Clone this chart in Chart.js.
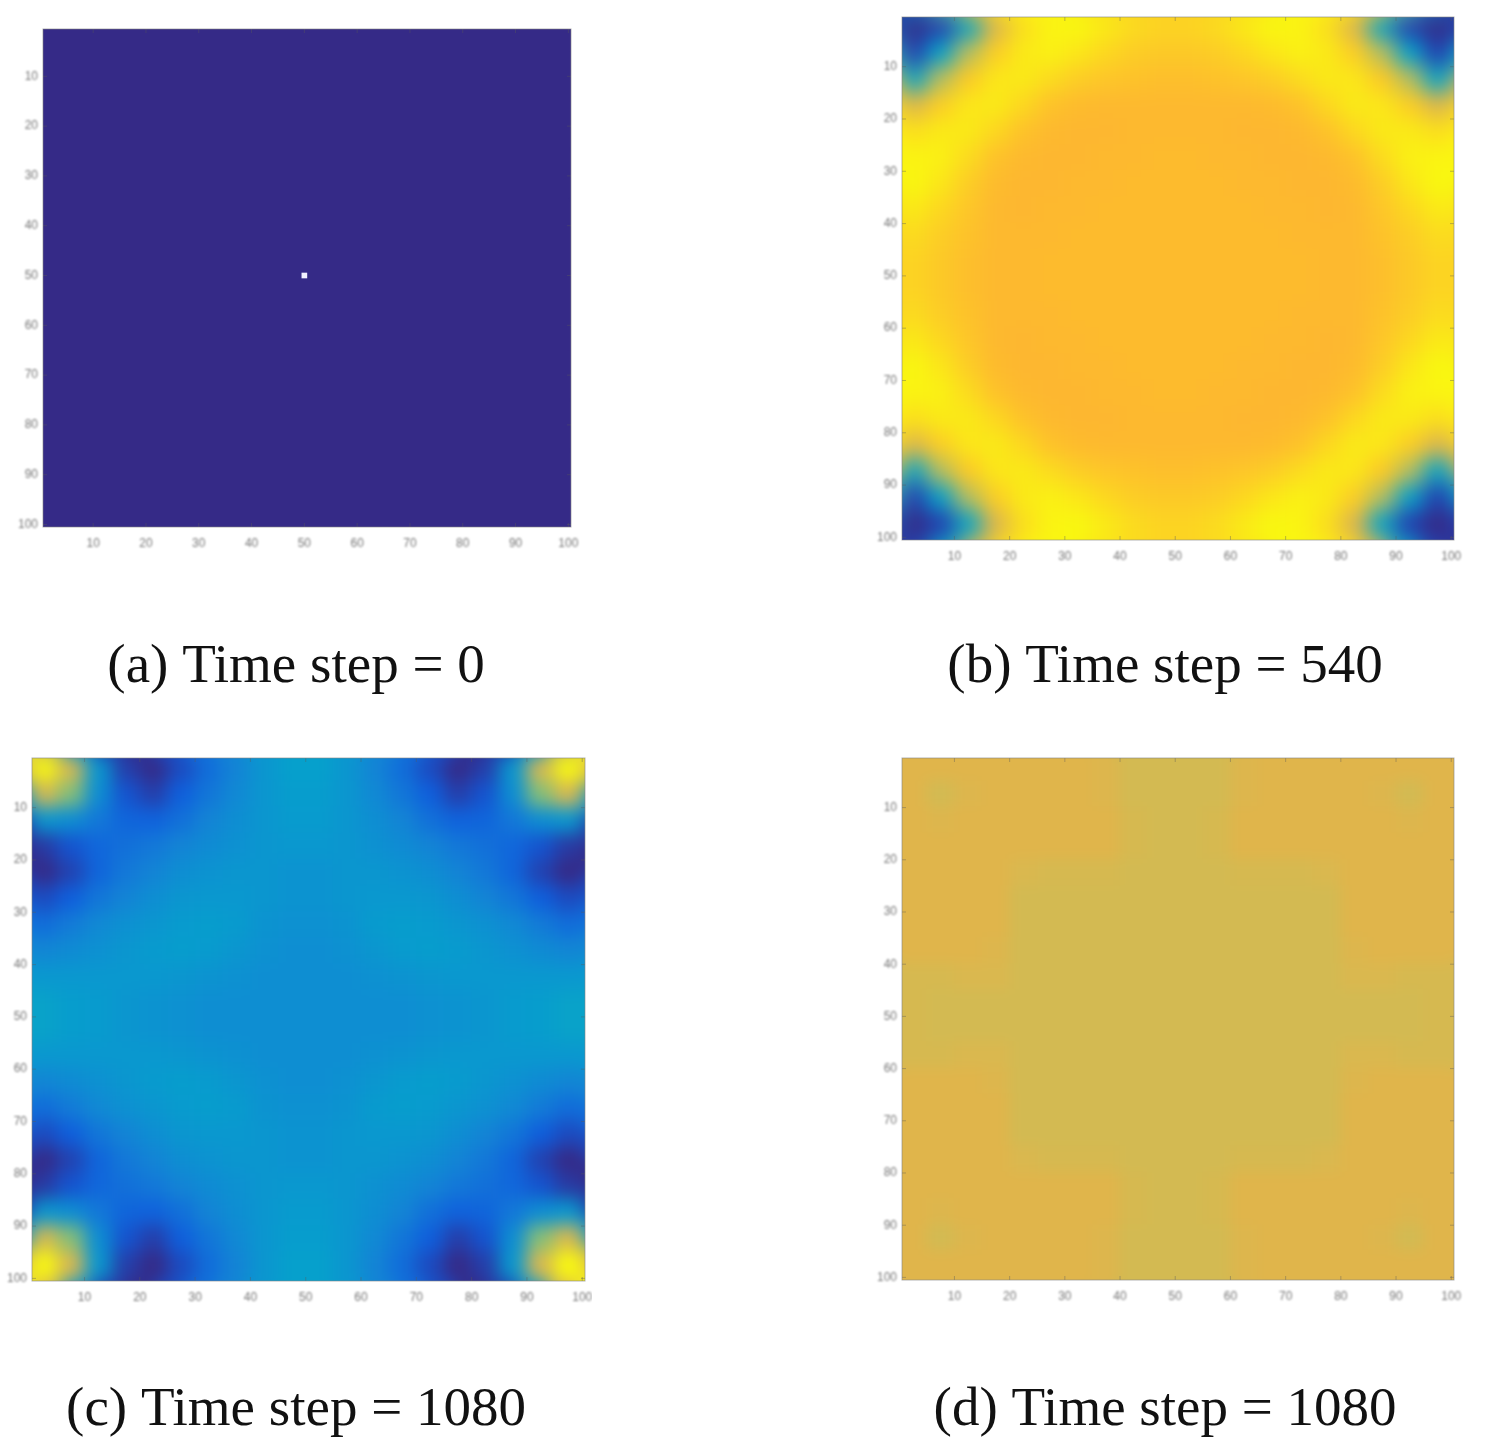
<!DOCTYPE html>
<html><head><meta charset="utf-8">
<style>html,body{margin:0;padding:0;background:#fff;width:1490px;height:1456px;overflow:hidden}canvas{position:absolute}</style>
<script src="https://cdn.jsdelivr.net/npm/chart.js@4/dist/chart.umd.min.js"></script>
</head><body>
<canvas id="a"></canvas><canvas id="b"></canvas><canvas id="c"></canvas><canvas id="d"></canvas>
<script>
const tickValues=[10,20,30,40,50,60,70,80,90,100];
const cellCenters=[2.5,7.5,12.5,17.5,22.5,27.5,32.5,37.5,42.5,47.5,52.5,57.5,62.5,67.5,72.5,77.5,82.5,87.5,92.5,97.5];
const captions=["(a) Time step = 0","(b) Time step = 540","(c) Time step = 1080","(d) Time step = 1080"];
const colorValues=[0,12,25,37,50,62,72,76,80,82,88,100];
const colorStops=["#352a87","#0f5cdd","#1481d6","#06a0cc","#2eb7a4","#87bf77","#d3ba52","#e0b54b","#fdb730","#fdbb2d","#fcd024","#f9fb0e"];
const hotCell=[{x:50,y:50}];
const panelA=[
[0,0,0,0,0,0,0,0,0,0,0,0,0,0,0,0,0,0,0,0],[0,0,0,0,0,0,0,0,0,0,0,0,0,0,0,0,0,0,0,0],
[0,0,0,0,0,0,0,0,0,0,0,0,0,0,0,0,0,0,0,0],[0,0,0,0,0,0,0,0,0,0,0,0,0,0,0,0,0,0,0,0],
[0,0,0,0,0,0,0,0,0,0,0,0,0,0,0,0,0,0,0,0],[0,0,0,0,0,0,0,0,0,0,0,0,0,0,0,0,0,0,0,0],
[0,0,0,0,0,0,0,0,0,0,0,0,0,0,0,0,0,0,0,0],[0,0,0,0,0,0,0,0,0,0,0,0,0,0,0,0,0,0,0,0],
[0,0,0,0,0,0,0,0,0,0,0,0,0,0,0,0,0,0,0,0],[0,0,0,0,0,0,0,0,0,0,0,0,0,0,0,0,0,0,0,0],
[0,0,0,0,0,0,0,0,0,0,0,0,0,0,0,0,0,0,0,0],[0,0,0,0,0,0,0,0,0,0,0,0,0,0,0,0,0,0,0,0],
[0,0,0,0,0,0,0,0,0,0,0,0,0,0,0,0,0,0,0,0],[0,0,0,0,0,0,0,0,0,0,0,0,0,0,0,0,0,0,0,0],
[0,0,0,0,0,0,0,0,0,0,0,0,0,0,0,0,0,0,0,0],[0,0,0,0,0,0,0,0,0,0,0,0,0,0,0,0,0,0,0,0],
[0,0,0,0,0,0,0,0,0,0,0,0,0,0,0,0,0,0,0,0],[0,0,0,0,0,0,0,0,0,0,0,0,0,0,0,0,0,0,0,0],
[0,0,0,0,0,0,0,0,0,0,0,0,0,0,0,0,0,0,0,0],[0,0,0,0,0,0,0,0,0,0,0,0,0,0,0,0,0,0,0,0]];
const panelB=[
[0,6,40,75,92,98,99,95,91,89,89,91,95,99,98,92,75,40,6,0],
[6,38,68,87,95,97,94,90,87,86,86,87,90,94,97,95,87,68,38,6],
[40,68,86,94,95,91,87,85,84,83,83,84,85,87,91,95,94,86,68,40],
[75,87,94,95,90,84,82,81,81,81,81,81,81,82,84,90,95,94,87,75],
[92,95,95,90,84,81,80,80,81,81,81,81,80,80,81,84,90,95,95,92],
[98,97,91,84,81,80,80,81,81,82,82,81,81,80,80,81,84,91,97,98],
[99,94,87,82,80,80,81,81,82,82,82,82,81,81,80,80,82,87,94,99],
[95,90,85,81,80,81,81,82,82,82,82,82,82,81,81,80,81,85,90,95],
[91,87,84,81,81,81,82,82,82,82,82,82,82,82,81,81,81,84,87,91],
[89,86,83,81,81,82,82,82,82,82,82,82,82,82,82,81,81,83,86,89],
[89,86,83,81,81,82,82,82,82,82,82,82,82,82,82,81,81,83,86,89],
[91,87,84,81,81,81,82,82,82,82,82,82,82,82,81,81,81,84,87,91],
[95,90,85,81,80,81,81,82,82,82,82,82,82,81,81,80,81,85,90,95],
[99,94,87,82,80,80,81,81,82,82,82,82,81,81,80,80,82,87,94,99],
[98,97,91,84,81,80,80,81,81,82,82,81,81,80,80,81,84,91,97,98],
[92,95,95,90,84,81,80,80,81,81,81,81,80,80,81,84,90,95,95,92],
[75,87,94,95,90,84,82,81,81,81,81,81,81,82,84,90,95,94,87,75],
[40,68,86,94,95,91,87,85,84,83,83,84,85,87,91,95,94,86,68,40],
[6,38,68,87,95,97,94,90,87,86,86,87,90,94,97,95,87,68,38,6],
[0,6,40,75,92,98,99,95,91,89,89,91,95,99,98,92,75,40,6,0]];
const panelC=[
[100,74,34,5,0,8,18,26,33,37,37,33,26,18,8,0,5,34,74,100],
[74,62,30,10,5,13,21,28,33,36,36,33,28,21,13,5,10,30,62,74],
[34,30,22,15,14,19,26,30,33,35,35,33,30,26,19,14,15,22,30,34],
[4,10,16,19,22,26,29,31,33,34,34,33,31,29,26,22,19,16,10,4],
[0,6,15,22,26,30,32,33,33,32,32,33,33,32,30,26,22,15,6,0],
[8,13,21,26,30,33,34,34,33,32,32,33,34,34,33,30,26,21,13,8],
[18,23,28,31,33,35,36,35,32,31,31,32,35,36,35,33,31,28,23,18],
[27,29,31,33,35,36,35,33,31,30,30,31,33,35,36,35,33,31,29,27],
[34,34,34,34,34,33,32,31,30,30,30,30,31,32,33,34,34,34,34,34],
[38,36,35,33,32,31,30,30,30,30,30,30,30,30,31,32,33,35,36,38],
[38,36,35,33,32,31,30,30,30,30,30,30,30,30,31,32,33,35,36,38],
[34,34,34,34,34,33,32,31,30,30,30,30,31,32,33,34,34,34,34,34],
[27,29,31,33,35,36,35,33,31,30,30,31,33,35,36,35,33,31,29,27],
[18,23,28,31,33,35,36,35,32,31,31,32,35,36,35,33,31,28,23,18],
[8,13,21,26,30,33,34,34,33,32,32,33,34,34,33,30,26,21,13,8],
[0,6,15,22,26,30,32,33,33,32,32,33,33,32,30,26,22,15,6,0],
[4,10,16,19,22,26,29,31,33,34,34,33,31,29,26,22,19,16,10,4],
[34,30,22,15,14,19,26,30,33,35,35,33,30,26,19,14,15,22,30,34],
[74,62,30,10,5,13,21,28,33,36,36,33,28,21,13,5,10,30,62,74],
[100,74,34,5,0,8,18,26,33,37,37,33,26,18,8,0,5,34,74,100]];
const panelD=[
[76,76,76,76,76,76,76,75,72,72,72,72,75,76,76,76,76,76,76,76],
[76,72,75,76,76,76,76,75,72,72,72,72,75,76,76,76,76,75,72,76],
[76,75,76,76,76,76,76,76,73,72,72,73,76,76,76,76,76,76,75,76],
[76,76,76,76,76,76,76,76,73,72,72,73,76,76,76,76,76,76,76,76],
[76,76,76,76,74,73,73,73,72,72,72,72,73,73,73,74,76,76,76,76],
[76,76,76,76,72,72,72,72,72,72,72,72,72,72,72,72,76,76,76,76],
[76,76,76,76,72,72,72,72,72,72,72,72,72,72,72,72,76,76,76,76],
[76,76,76,75,72,72,72,72,72,72,72,72,72,72,72,72,75,76,76,76],
[73,73,74,74,72,72,72,72,72,72,72,72,72,72,72,72,74,74,73,73],
[73,72,72,72,72,72,72,72,72,72,72,72,72,72,72,72,72,72,72,73],
[73,72,72,72,72,72,72,72,72,72,72,72,72,72,72,72,72,72,72,73],
[73,73,74,74,72,72,72,72,72,72,72,72,72,72,72,72,74,74,73,73],
[76,76,76,75,72,72,72,72,72,72,72,72,72,72,72,72,75,76,76,76],
[76,76,76,76,72,72,72,72,72,72,72,72,72,72,72,72,76,76,76,76],
[76,76,76,76,72,72,72,72,72,72,72,72,72,72,72,72,76,76,76,76],
[76,76,76,76,74,73,73,73,72,72,72,72,73,73,73,74,76,76,76,76],
[76,76,76,76,76,76,76,76,73,72,72,73,76,76,76,76,76,76,76,76],
[76,75,76,76,76,76,76,76,73,72,72,73,76,76,76,76,76,76,75,76],
[76,72,75,76,76,76,76,75,72,72,72,72,75,76,76,76,76,75,72,76],
[76,76,76,76,76,76,76,75,72,72,72,72,75,76,76,76,76,76,76,76]];

function hex(h){return [1,3,5].map(i=>parseInt(h.substr(i,2),16));}
function colorFor(v){
  let i=0; while(i<colorValues.length-2&&v>colorValues[i+1])i++;
  const t=Math.min(1,Math.max(0,(v-colorValues[i])/(colorValues[i+1]-colorValues[i])));
  const a=hex(colorStops[i]),b=hex(colorStops[i+1]);
  return 'rgb('+a.map((c,k)=>Math.round(c+(b[k]-c)*t)).join(',')+')';
}
const softenAndFrame={
  id:'softenAndFrame',
  beforeDraw(chart){
    const ctx=chart.ctx;
    ['x','y'].forEach(k=>{const s=chart.scales[k];
      if(!s._soft){const f=s.drawLabels;s._soft=true;
        s.drawLabels=function(a){ctx.save();ctx.filter='blur(0.8px)';f.call(this,a);ctx.restore();};}
    });
  },
  afterDatasetDraw(chart,args,opts){
    if(args.index!==0)return;
    const a=chart.chartArea,ctx=chart.ctx,blur=opts.blur,p=Math.ceil(blur*3);
    const w=Math.round(a.width),h=Math.round(a.height),l=Math.round(a.left),t=Math.round(a.top);
    const tmp=document.createElement('canvas');tmp.width=w+2*p;tmp.height=h+2*p;
    const g=tmp.getContext('2d');
    g.drawImage(chart.canvas,l,t,w,h,0,0,w+2*p,h+2*p);
    g.drawImage(chart.canvas,l,t,w,h,p,p,w,h);
    ctx.save();ctx.beginPath();ctx.rect(l,t,w,h);ctx.clip();
    ctx.filter='blur('+blur+'px)';ctx.drawImage(tmp,l-p,t-p);ctx.restore();
  },
  afterDatasetsDraw(chart){
    const a=chart.chartArea,ctx=chart.ctx,x=chart.scales.x,y=chart.scales.y;
    ctx.save();ctx.strokeStyle='rgba(90,90,90,0.4)';ctx.lineWidth=1;
    ctx.beginPath();
    tickValues.forEach(v=>{const px=x.getPixelForValue(v),py=y.getPixelForValue(v);
      ctx.moveTo(px,a.top);ctx.lineTo(px,a.top+4);ctx.moveTo(px,a.bottom);ctx.lineTo(px,a.bottom-4);
      ctx.moveTo(a.left,py);ctx.lineTo(a.left+4,py);ctx.moveTo(a.right,py);ctx.lineTo(a.right-4,py);});
    ctx.stroke();
    ctx.strokeStyle='rgba(130,130,130,0.6)';ctx.strokeRect(a.left,a.top,a.width,a.height);
    ctx.restore();
  }
};
function build(id,cfg,rows,caption,hot){
  const el=document.getElementById(id);
  el.style.left=cfg.left+'px';el.style.top=cfg.top+'px';
  el.style.width=cfg.w+'px';el.style.height=cfg.h+'px';el.width=cfg.w;el.height=cfg.h;
  const pts=[];
  rows.forEach((r,i)=>r.forEach((v,j)=>pts.push({x:cellCenters[j],y:cellCenters[i],v})));
  const datasets=[{type:'scatter',order:1,data:pts,pointStyle:'rect',borderWidth:0,
    pointRadius:c=>{const a=c.chart.chartArea;return a?Math.max(a.width,a.height)/cellCenters.length/Math.SQRT2+0.5:1;},
    backgroundColor:c=>colorFor(c.raw?c.raw.v:0)}];
  if(hot)datasets.push({type:'scatter',order:0,data:hot,pointStyle:'rect',pointRadius:4,borderWidth:0,backgroundColor:'#f2f2ff'});
  new Chart(el,{type:'scatter',data:{datasets},plugins:[softenAndFrame],options:{
    responsive:false,animation:false,devicePixelRatio:1,
    layout:{padding:{top:cfg.plotTop,left:0,right:0,bottom:0}},
    plugins:{legend:{display:false},tooltip:{enabled:false},
      softenAndFrame:{blur:cfg.blur},
      title:{display:true,position:'bottom',text:caption,color:'#111',
        font:{family:'"Liberation Serif"',size:55,lineHeight:1.2,weight:'normal'},padding:{top:cfg.pad,bottom:0}}},
    scales:{
      x:{type:'linear',min:0.5,max:100.5,afterBuildTicks:s=>{s.ticks=tickValues.map(value=>({value}));},
        afterFit:s=>{s.height=40;s.paddingLeft=0;s.paddingRight=0;},border:{display:false},grid:{display:false,drawTicks:false},
        ticks:{color:'#777',font:{family:'"Liberation Sans"',size:12},padding:9,maxRotation:0,autoSkip:false,callback:v=>String(v)}},
      y:{type:'linear',reverse:true,min:0.5,max:100.5,afterBuildTicks:s=>{s.ticks=tickValues.map(value=>({value}));},
        afterFit:s=>{s.width=cfg.L;s.paddingTop=0;s.paddingBottom=0;},border:{display:false},grid:{display:false,drawTicks:false},
        ticks:{color:'#777',font:{family:'"Liberation Sans"',size:12},padding:5,autoSkip:false,callback:v=>String(v)}},
      gap:{type:'linear',position:'right',afterFit:s=>{s.width=cfg.R;s.paddingTop=0;s.paddingBottom=0;},border:{display:false},grid:{display:false,drawTicks:false},ticks:{display:false}}
    }}});
}
build('a',{left:0,top:0,w:592,h:701,L:43,R:21,plotTop:29,pad:68,blur:2},panelA,captions[0],hotCell);
build('b',{left:840,top:0,w:650,h:701,L:62,R:36,plotTop:17,pad:55,blur:10},panelB,captions[1]);
build('c',{left:0,top:720,w:592,h:724,L:32,R:7,plotTop:38,pad:57,blur:9},panelC,captions[2]);
build('d',{left:840,top:720,w:650,h:724,L:62,R:36,plotTop:38,pad:58,blur:7},panelD,captions[3]);
</script></body></html>
